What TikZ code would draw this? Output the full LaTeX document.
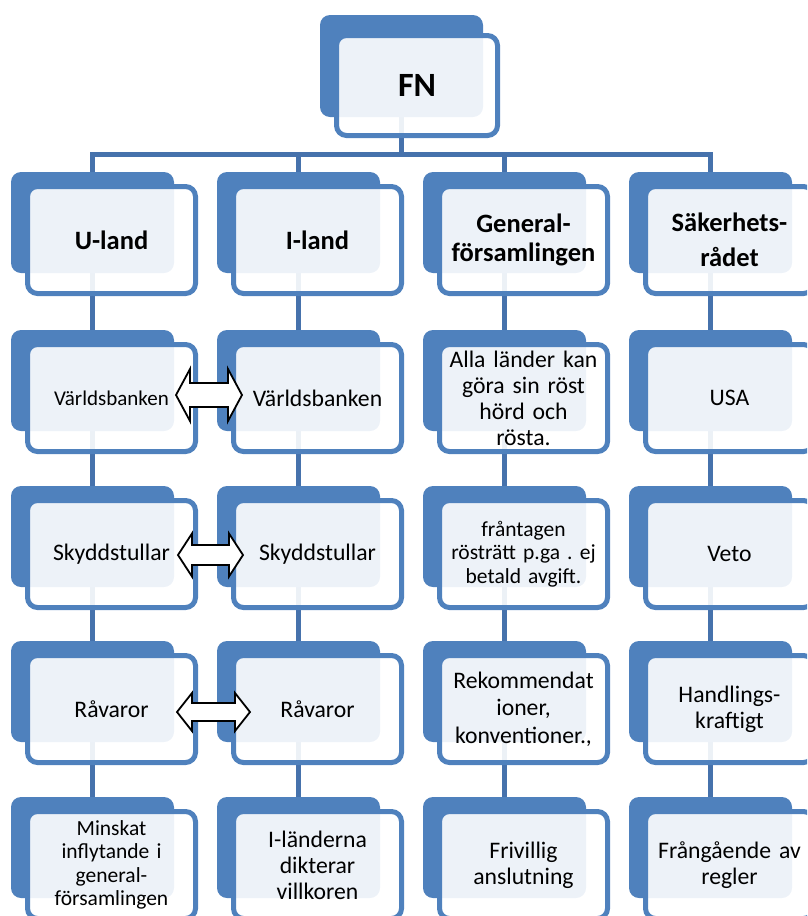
\documentclass[tikz,border=0pt]{standalone}
\usepackage{fontspec}
\setmainfont{Carlito}
\frenchspacing
\usetikzlibrary{backgrounds}
\definecolor{boxblue}{RGB}{79,129,189}
\definecolor{linkblue}{RGB}{70,114,172}
\tikzset{
 backbox/.style={draw=none, fill=boxblue, rounded corners=10pt, minimum width=163pt, minimum height=101pt, inner sep=0pt},
 frontbox/.style={draw=boxblue, line width=5pt, fill=white, fill opacity=0.9, draw opacity=1, text opacity=1, rounded corners=10pt, minimum width=168pt, minimum height=107pt, inner sep=0pt, align=center, text width=164pt},
 link/.style={draw=linkblue, line width=5pt},
 dblarrow/.style={draw=black, line width=1.8pt, fill=white, line join=miter},
 hdr/.style={font=\fontsize{26.5}{29}\selectfont\bfseries},
 body/.style={font=\fontsize{23.7}{26}\selectfont},
 smalltxt/.style={font=\fontsize{21.5}{23.5}\selectfont},
}
\newcommand\mybox[5]{%
 \node[backbox] (#1-b) at (#2+81.5,#3+50.5) {};
 \node[frontbox,#4] (#1) at (#2+100.5,#3+68) {\frenchspacing #5};
}
\newcommand\myDblArrow[7]{%
 \draw[dblarrow] (#2,#4) coordinate (#1) -- (#2+#7,#4-#5) -- (#2+#7,#4-#6) -- (#3-#7,#4-#6) -- (#3-#7,#4-#5) -- (#3,#4) -- (#3-#7,#4+#5) -- (#3-#7,#4+#6) -- (#2+#7,#4+#6) -- (#2+#7,#4+#5) -- cycle;
}
\begin{document}
\begin{tikzpicture}[x=1pt,y=-1pt]
\clip (0,0) rectangle (807,916);
\coordinate (busy) at (0,154);
% top
\node[backbox, minimum height=102pt] (fn-b) at (401.5,66) {};
\node[frontbox, minimum width=161pt, minimum height=100pt, text width=150pt, font=\fontsize{34}{36}\selectfont\bfseries] (fn) at (417,85.5) {FN};
% row 1
\mybox{u1}{11}{172}{hdr}{U-land}
\mybox{i1}{217}{172}{hdr}{I-land}
\mybox{g1}{423}{172}{hdr}{General-\\församlingen}
\mybox{s1}{629}{172}{hdr}{Säkerhets-\\[6pt]rådet}
% row 2
\mybox{u2}{11}{330}{font=\fontsize{21}{23}\selectfont}{Världsbanken}
\mybox{i2}{217}{330}{body}{Världsbanken}
\mybox{g2}{423}{330}{body}{Alla länder kan\\göra sin röst\\hörd och\\rösta.}
\mybox{s2}{629}{330}{body}{USA}
% row 3
\mybox{u3}{11}{486}{body}{Skyddstullar}
\mybox{i3}{217}{486}{body}{Skyddstullar}
\mybox{g3}{423}{486}{smalltxt}{fråntagen\\rösträtt p.ga . ej\\betald avgift.}
\mybox{s3}{629}{486}{body}{Veto}
% row 4
\mybox{u4}{11}{641}{body}{Råvaror}
\mybox{i4}{217}{641}{body}{Råvaror}
\mybox{g4}{423}{641}{font=\fontsize{23.7}{27.5}\selectfont}{Rekommendat\\ioner,\\konventioner.,}
\mybox{s4}{629}{641}{body}{Handlings-\\kraftigt}
% row 5
\mybox{u5}{11}{797}{smalltxt}{Minskat\\inflytande i\\general-\\församlingen}
\mybox{i5}{217}{797}{body}{I-länderna\\dikterar\\villkoren}
\mybox{g5}{423}{797}{body}{Frivillig\\anslutning}
\mybox{s5}{629}{797}{body}{Frångående av\\regler}
% connectors
\begin{scope}[on background layer]
 \draw[link] (fn-b.south) -- (fn-b.south |- busy);
 \draw[link] (u1-b.north) -- (u1-b.north |- busy) -- (s1-b.north |- busy) -- (s1-b.north);
 \draw[link] (i1-b.north) -- (i1-b.north |- busy);
 \draw[link] (g1-b.north) -- (g1-b.north |- busy);
 \foreach \c in {u,i,g,s}{
  \foreach \r/\n in {1/2,2/3,3/4,4/5}{
   \draw[link] (\c\r-b.south) -- (\c\n-b.north);
  }
 }
\end{scope}
% double arrows
\myDblArrow{a2}{176}{242}{395}{26}{12}{14}
\myDblArrow{a3}{178}{243}{555}{21.5}{10}{14}
\myDblArrow{a4}{177}{250}{712}{19}{9}{15}
\end{tikzpicture}
\end{document}
